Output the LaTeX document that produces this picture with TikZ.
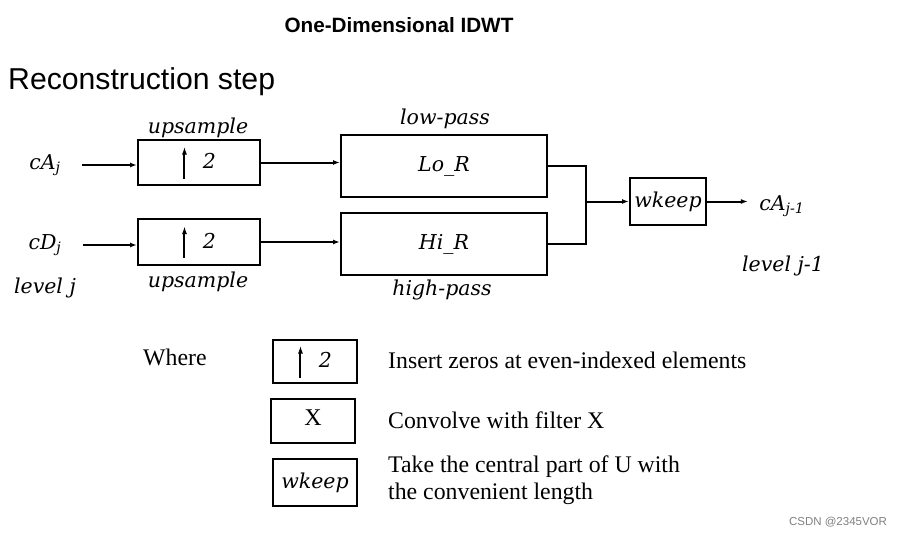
\documentclass[tikz,border=0pt]{standalone}
\usepackage{fontspec}
\setmainfont{Liberation Serif}
\newfontfamily\lblfont{DejaVu Serif}
\newfontfamily\headfont{Liberation Sans}
\usetikzlibrary{arrows.meta, positioning}
\tikzset{
  blk/.style={draw, line width=2pt, inner sep=0pt},
  lbl/.style={font=\lblfont\itshape\fontsize{20.5}{24}\selectfont},
  sig/.style={line width=2pt, -{Latex[length=7pt,width=5pt]}},
  wire/.style={line width=2pt},
  note/.style={font=\fontsize{23.8}{27}\selectfont, anchor=west, align=left, inner sep=0pt}
}
\newcommand{\upsym}{\tikz[baseline=0pt]\draw[line width=2pt,-{Latex[length=8pt,width=5pt]}] (0,-10pt) -- (0,22pt);}

\begin{document}
\begin{tikzpicture}[x=1pt, y=-1pt]
  \useasboundingbox (0,0) rectangle (905,538);

  % headings
  \node[font=\headfont\bfseries\fontsize{20.7}{24}\selectfont] (title) at (399,25) {One-Dimensional IDWT};
  \node[font=\headfont\fontsize{30.2}{34}\selectfont, anchor=west, inner sep=0pt] (stp) at (8,82) {Reconstruction step};

  % inputs
  \node[lbl] (ca) at (45,165) {cA\textsubscript{j}};
  \node[lbl] (cd) at (45,245) {cD\textsubscript{j}};
  \node[lbl] (lvl) at (45,288) {level j};

  % upsampling
  \node[blk, lbl, minimum width=122pt, minimum height=45pt] (upa) at (199,162.5) {\upsym\hspace{16pt}2};
  \node[blk, lbl, minimum width=122pt, minimum height=46pt] (upd) at (199,242) {\upsym\hspace{16pt}2};
  \node[lbl] (upatxt) at (198,128) {upsample};
  \node[lbl] (updtxt) at (198,282) {upsample};

  % filters
  \node[blk, lbl, minimum width=206pt, minimum height=62pt] (lo) at (444,166) {\raisebox{-3pt}{Lo\_R}};
  \node[blk, lbl, minimum width=206pt, minimum height=62pt] (hi) at (444,244) {\raisebox{-1pt}{Hi\_R}};
  \node[lbl] (lotxt) at (445,119) {low-pass};
  \node[lbl] (hitxt) at (442,290) {high-pass};

  % output side
  \node[blk, lbl, minimum width=76pt, minimum height=47pt] (wk) at (668,201.5) {\raisebox{-2pt}{wkeep}};
  \node[lbl] (cao) at (782,206) {cA\textsubscript{j-1}};
  \node[lbl] (lvlo) at (783,266) {level j-1};
  \coordinate (j) at (586,201.5);

  \draw[sig, shorten <=18pt] (ca.east) -- (upa.west |- ca.east);
  \draw[sig, shorten <=18pt] (cd.east) -- (upd.west |- cd.east);
  \draw[sig] (upa.east) -- (lo.west |- upa.east);
  \draw[sig] (upd.east) -- (hi.west |- upd.east);
  \draw[wire] (lo.east) -| (j);
  \draw[wire] (hi.east) -| (j);
  \draw[sig] (j) -- (wk.west);
  \draw[sig, shorten >=8pt] (wk.east) -- (wk.east -| cao.west);

  % legend
  \node[note] (where) at (143,357) {Where};
  \node[blk, lbl, minimum width=84pt, minimum height=43pt] (key1) at (315,361.5) {\upsym\hspace{16pt}2};
  \node[blk, minimum width=84pt, minimum height=44pt, font=\fontsize{24}{28}\selectfont] (key2) at (313,421) {\raisebox{6pt}{X}};
  \node[blk, lbl, minimum width=84pt, minimum height=47pt] (key3) at (315,482.5) {\raisebox{-2pt}{wkeep}};
  \node[note] (note1) at (388,360) {Insert zeros at even-indexed elements};
  \node[note] (note2) at (388,420) {Convolve with filter X};
  \node[note] (note3) at (388,480) {Take the central part of U with\\the convenient length};

  \node[font=\headfont\fontsize{11.5}{14}\selectfont, text=gray] (mark) at (838,522) {CSDN @2345VOR};
\end{tikzpicture}
\end{document}
